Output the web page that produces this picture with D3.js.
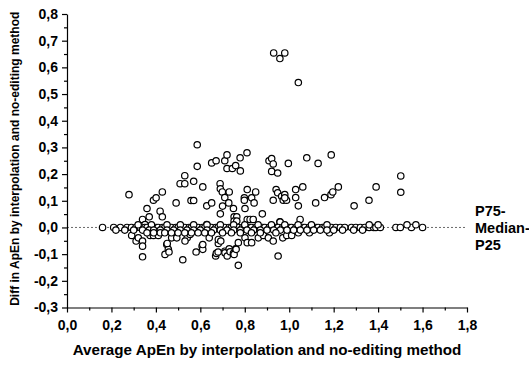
<!DOCTYPE html>
<html>
<head>
<meta charset="utf-8">
<script src="https://cdn.jsdelivr.net/npm/d3@7"></script>
<style>
  body { margin: 0; background: #fff; }
  text { font-family: "Liberation Sans", Arial, sans-serif; font-weight: bold; fill: #000; }
</style>
</head>
<body>
<div id="chart"></div>
<script>
// Bland-Altman style scatter: average vs difference of ApEn
const xTicks = [0, 0.2, 0.4, 0.6, 0.8, 1.0, 1.2, 1.4, 1.6, 1.8];
const yTicks = [-0.3, -0.2, -0.1, 0, 0.1, 0.2, 0.3, 0.4, 0.5, 0.6, 0.7, 0.8];
const refLabels = ['P75-', 'Median-', 'P25'];

// outliers above 0.3
const highPoints = [
	[0.93, 0.654], [0.958, 0.633], [0.98, 0.654], [1.041, 0.543], [0.586, 0.31]
];

// positive differences
const positivePoints = [
	[0.586, 0.229], [0.53, 0.194], [0.509, 0.164], [0.53, 0.164], [0.57, 0.173], [0.279, 0.123],
	[0.429, 0.133], [0.389, 0.102], [0.401, 0.111], [0.491, 0.092], [0.558, 0.101], [0.57, 0.101],
	[0.36, 0.071], [0.419, 0.061], [0.37, 0.04], [0.429, 0.04], [0.34, 0.03], [0.351, 0.011],
	[0.651, 0.242], [0.671, 0.25], [0.71, 0.25], [0.72, 0.272], [0.779, 0.261], [0.81, 0.28],
	[0.72, 0.221], [0.744, 0.221], [0.759, 0.232], [0.78, 0.212], [0.909, 0.25], [0.921, 0.258],
	[0.928, 0.238], [0.921, 0.21], [0.948, 0.204], [0.996, 0.24], [0.611, 0.152], [0.689, 0.164],
	[0.69, 0.145], [0.699, 0.133], [0.71, 0.112], [0.73, 0.133], [0.798, 0.111], [0.798, 0.102],
	[0.811, 0.142], [0.831, 0.111], [0.849, 0.133], [0.941, 0.142], [0.948, 0.13], [0.966, 0.117],
	[0.928, 0.102], [0.973, 0.102], [0.988, 0.102], [0.629, 0.081], [0.651, 0.092], [0.70, 0.08],
	[0.728, 0.092], [0.749, 0.071], [0.801, 0.071], [0.842, 0.092], [0.69, 0.051], [0.752, 0.04],
	[0.764, 0.04], [0.752, 0.024], [0.764, 0.024], [0.811, 0.03], [0.824, 0.03], [0.838, 0.03],
	[0.879, 0.051], [0.958, 0.021], [0.629, 0.011], [1.079, 0.261], [1.13, 0.24], [1.189, 0.272],
	[0.98, 0.123], [0.98, 0.111], [1.029, 0.142], [1.029, 0.112], [1.061, 0.152], [1.041, 0.081],
	[1.119, 0.092], [1.159, 0.112], [1.188, 0.123], [1.196, 0.133], [1.221, 0.152], [1.292, 0.081],
	[1.359, 0.102], [1.391, 0.152], [1.049, 0.03], [0.959, 0.02], [1.502, 0.193], [1.502, 0.132]
];

// near-zero differences
const zeroRowX = [
	0.16, 0.21, 0.24, 0.27, 0.29, 0.31, 0.33, 0.35, 0.36, 0.38, 0.40, 0.41, 0.43, 0.44, 0.46, 0.47,
	0.49, 0.50, 0.52, 0.53, 0.55, 0.56, 0.58, 0.59, 0.61, 0.62, 0.64, 0.65, 0.67, 0.68, 0.70, 0.71,
	0.73, 0.74, 0.76, 0.77, 0.79, 0.80, 0.82, 0.83, 0.85, 0.86, 0.88, 0.89, 0.91, 0.92, 0.94, 0.95,
	0.97, 0.98, 1.00, 1.01, 1.03, 1.04, 1.06, 1.07, 1.09, 1.10, 1.12, 1.13, 1.15, 1.16, 1.18, 1.19,
	1.21, 1.23, 1.25, 1.28, 1.30, 1.32, 1.34, 1.36, 1.38, 1.39, 1.41, 1.48, 1.50, 1.55, 1.60
];
const rowAboveX = [
	0.32, 0.38, 0.45, 0.51, 0.57, 0.63, 0.69, 0.75, 0.80, 0.86, 0.92, 0.98, 1.04, 1.10, 1.17,
	1.36, 1.40, 1.53, 1.57
];
const rowBelowX = [
	0.22, 0.26, 0.30, 0.34, 0.37, 0.39, 0.42, 0.45, 0.48, 0.51, 0.54, 0.57, 0.60, 0.63, 0.66, 0.69,
	0.72, 0.75, 0.78, 0.81, 0.84, 0.87, 0.90, 0.93, 0.96, 0.99, 1.02, 1.05, 1.08, 1.11, 1.14, 1.17,
	1.20, 1.24, 1.29, 1.33
];
const rowBelow2X = [
	0.36, 0.39, 0.42, 0.44, 0.47, 0.50, 0.53, 0.56, 0.59, 0.62, 0.65, 0.70, 0.74, 0.78, 0.83, 0.87, 0.94
];

// negative differences
const negativePoints = [
	[0.291, -0.03], [0.311, -0.051], [0.321, -0.039], [0.34, -0.051], [0.34, -0.07], [0.34, -0.11],
	[0.374, -0.03], [0.389, -0.03], [0.411, -0.03], [0.449, -0.064], [0.456, -0.082], [0.441, -0.101],
	[0.459, -0.092], [0.451, -0.06], [0.471, -0.039], [0.494, -0.039], [0.541, -0.039], [0.554, -0.026],
	[0.521, -0.121], [0.531, -0.051], [0.581, -0.092], [0.608, -0.07], [0.611, -0.082], [0.611, -0.064],
	[0.64, -0.039], [0.669, -0.107], [0.672, -0.097], [0.68, -0.092], [0.681, -0.06], [0.681, -0.045],
	[0.692, -0.051], [0.71, -0.089], [0.711, -0.095], [0.721, -0.107], [0.73, -0.08], [0.734, -0.091],
	[0.749, -0.097], [0.752, -0.101], [0.759, -0.08], [0.761, -0.082], [0.771, -0.142], [0.771, -0.057],
	[0.801, -0.039], [0.811, -0.057], [0.831, -0.057], [0.861, -0.039], [0.884, -0.03], [0.906, -0.039],
	[0.928, -0.051], [0.95, -0.107], [0.971, -0.039], [0.989, -0.03], [1.011, -0.03], [1.041, -0.02],
	[1.091, -0.02], [1.181, -0.02]
];

const width = 529;
const height = 366;
const margin = { top: 14, right: 62, bottom: 58.5, left: 67 };

const svg = d3.select('#chart')
	.append('svg')
	.attr('width', width)
	.attr('height', height);

const xScale = d3.scaleLinear()
	.domain([0, 1.8])
	.range([margin.left, width - margin.right]);

const yScale = d3.scaleLinear()
	.domain([-0.3, 0.8])
	.range([height - margin.bottom, margin.top]);

const fmt = d => d3.format('.1f')(d).replace('.', ',').replace('−', '-');

// reference line
svg.append('line')
	.attr('x1', xScale(0))
	.attr('x2', xScale(1.8) - 1)
	.attr('y1', yScale(0))
	.attr('y2', yScale(0))
	.attr('stroke', '#444')
	.attr('stroke-width', 0.8)
	.attr('stroke-dasharray', '2,2');

// points
const allPoints = []
	.concat(highPoints, positivePoints, negativePoints)
	.concat(zeroRowX.map(x => [x, 0]))
	.concat(rowAboveX.map(x => [x, 0.01]))
	.concat(rowBelowX.map(x => [x, -0.01]))
	.concat(rowBelow2X.map(x => [x, -0.02]));

svg.append('g')
	.selectAll('circle')
	.data(allPoints)
	.join('circle')
	.attr('cx', d => xScale(d[0]))
	.attr('cy', d => yScale(d[1]))
	.attr('r', 3.2)
	.attr('fill', '#fff')
	.attr('stroke', '#000')
	.attr('stroke-width', 1.2);

// axes
const xMinor = d3.range(1, 18, 2).map(i => i / 10);
const yMinor = d3.range(-5, 16, 2).map(i => i / 20);

const xAxis = svg.append('g')
	.attr('transform', `translate(0,${yScale(-0.3)})`)
	.call(d3.axisBottom(xScale).tickValues(xTicks).tickFormat(fmt).tickSize(5).tickSizeOuter(0));
svg.append('g')
	.attr('transform', `translate(0,${yScale(-0.3)})`)
	.call(d3.axisBottom(xScale).tickValues(xMinor).tickFormat('').tickSize(3).tickSizeOuter(0))
	.select('.domain').remove();

const yAxis = svg.append('g')
	.attr('transform', `translate(${xScale(0)},0)`)
	.call(d3.axisLeft(yScale).tickValues(yTicks).tickFormat(fmt).tickSize(5).tickSizeOuter(0));
svg.append('g')
	.attr('transform', `translate(${xScale(0)},0)`)
	.call(d3.axisLeft(yScale).tickValues(yMinor).tickFormat('').tickSize(3).tickSizeOuter(0))
	.select('.domain').remove();

svg.selectAll('.domain, .tick line').attr('stroke', '#000').attr('stroke-width', 1.2);
xAxis.selectAll('text').attr('font-size', 14).attr('font-family', null).attr('dy', '1.0em');
yAxis.selectAll('text').attr('font-size', 14).attr('font-family', null).attr('dx', '-1px');

// titles
svg.append('text')
	.attr('x', (xScale(0) + xScale(1.8)) / 2)
	.attr('y', 355)
	.attr('text-anchor', 'middle')
	.attr('font-size', 15.2)
	.text('Average ApEn by interpolation and no-editing method');

svg.append('text')
	.attr('transform', `translate(19,${(yScale(-0.3) + yScale(0.8)) / 2 - 2}) rotate(-90)`)
	.attr('text-anchor', 'middle')
	.attr('font-size', 12)
	.text('Diff in ApEn by interpolation and no-editing method');

// percentile labels
svg.append('g')
	.selectAll('text')
	.data(refLabels)
	.join('text')
	.attr('x', 475)
	.attr('y', (d, i) => yScale(0) - 11 + i * 17)
	.attr('font-size', 14.5)
	.text(d => d);
</script>
</body>
</html>
